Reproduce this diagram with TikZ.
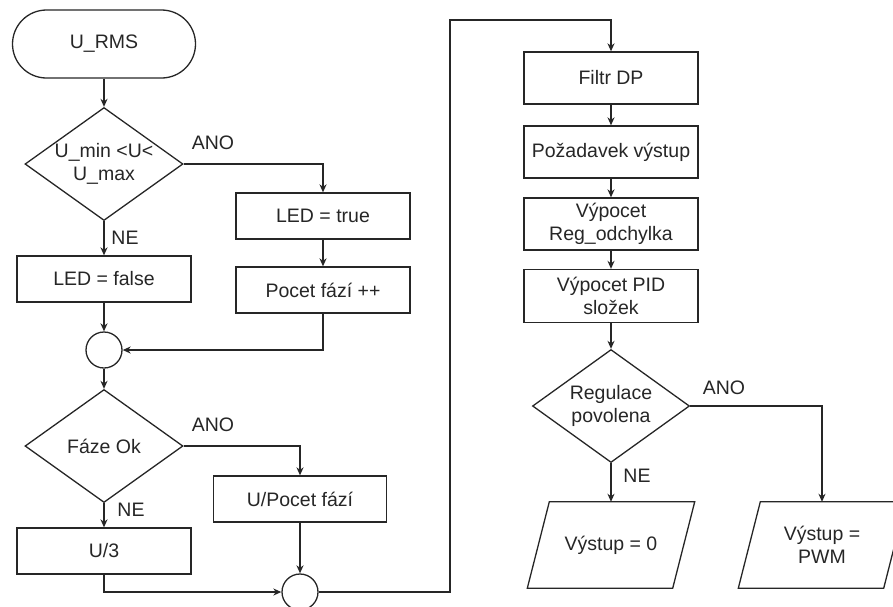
\documentclass[tikz,border=0pt]{standalone}
\usepackage{fontspec}
\setmainfont{Liberation Sans}
\usetikzlibrary{shapes.geometric,arrows.meta,calc}
\begin{document}
\begin{tikzpicture}[x=1pt,y=-1pt,
  every node/.style={font=\fontsize{19.5}{23.5}\selectfont, text=black!85},
  line/.style={draw=black!85, line width=1.3pt},
  arr/.style={line, -{Stealth[length=8pt,width=7pt,inset=2.5pt]}},
  proc/.style={rectangle, line, minimum width=174, minimum height=46, inner sep=0pt, align=center},
  tall/.style={proc, minimum height=52},
  term/.style={rectangle, line, rounded corners=34pt, minimum width=183, minimum height=68, inner sep=0pt},
  dia/.style={diamond, line, minimum width=158, minimum height=113, inner sep=0pt},
  junc/.style={circle, line, minimum size=36, inner sep=0pt},
  iobox/.style={rectangle, minimum width=145, minimum height=86, inner sep=0pt, align=center},
  lbl/.style={inner sep=0pt}
]
\useasboundingbox (0,0) rectangle (893,606);

% left column
\node[term] (urms) at (104,44) {U\_RMS};
\node[dia, label={[align=center]center:U\_min <U<\\U\_max}] (d1) at (104,164) {};
\node[proc] (ledT) at (323,216) {LED = true};
\node[proc] (pocet) at (323,290) {Pocet fází ++};
\node[proc] (ledF) at (104,279) {LED = false};
\node[junc] (c1) at (104,350) {};
\node[dia, label={center:Fáze Ok}] (d2) at (104,446) {};
\node[proc, minimum width=173] (upocet) at (300,499) {U/Pocet fází};
\node[proc] (u3) at (104,551) {U/3};
\node[junc] (c2) at (300,592) {};

% right column
\node[tall] (filtr) at (611,78) {Filtr DP};
\node[tall] (poz) at (611,152) {Požadavek výstup};
\node[tall] (vyp) at (611,224) {Výpocet\\Reg\_odchylka};
\node[tall, minimum height=53] (pid) at (611,296) {Výpocet PID\\složek};
\node[dia, minimum width=157, label={[align=center]center:Regulace\\povolena}] (d3) at (611,406) {};
\node[iobox] (v0) at (611,545) {Výstup = 0};
\node[iobox] (pwm) at (822,545) {Výstup =\\PWM};
\draw[line] ($(v0.north west)+(11,0)$) -- ($(v0.north east)+(11,0)$) -- ($(v0.south east)+(-11,0)$) -- ($(v0.south west)+(-11,0)$) -- cycle;
\draw[line] ($(pwm.north west)+(11,0)$) -- ($(pwm.north east)+(11,0)$) -- ($(pwm.south east)+(-11,0)$) -- ($(pwm.south west)+(-11,0)$) -- cycle;

% branch labels
\node[lbl] (ano1) at (213,143) {ANO};
\node[lbl] (ne1) at (125,238) {NE};
\node[lbl] (ano2) at (213,425) {ANO};
\node[lbl] (ne2) at (131,510) {NE};
\node[lbl] (ano3) at (724,388) {ANO};
\node[lbl] (ne3) at (637,476) {NE};

% connectors
\draw[arr] (urms) -- (d1);
\draw[arr] (d1.east) -| (ledT.north);
\draw[arr] (d1.south) -- (ledF.north);
\draw[arr] (ledT) -- (pocet);
\draw[arr] (ledF) -- (c1);
\draw[arr] (pocet.south) |- (c1.east);
\draw[arr] (c1) -- (d2);
\draw[arr] (d2.east) -| (upocet.north);
\draw[arr] (d2.south) -- (u3.north);
\draw[arr] (u3.south) |- (c2.west);
\draw[arr] (upocet) -- (c2);
\coordinate (r1) at (450,592);
\coordinate (r2) at (450,20);
\draw[arr] (c2.east) -- (r1) -- (r2) -| (filtr.north);
\draw[arr] (filtr) -- (poz);
\draw[arr] (poz) -- (vyp);
\draw[arr] (vyp) -- (pid);
\draw[arr] (pid) -- (d3);
\draw[arr] (d3.east) -| (pwm.north);
\draw[arr] (d3.south) -- (v0.north);
\end{tikzpicture}
\end{document}
